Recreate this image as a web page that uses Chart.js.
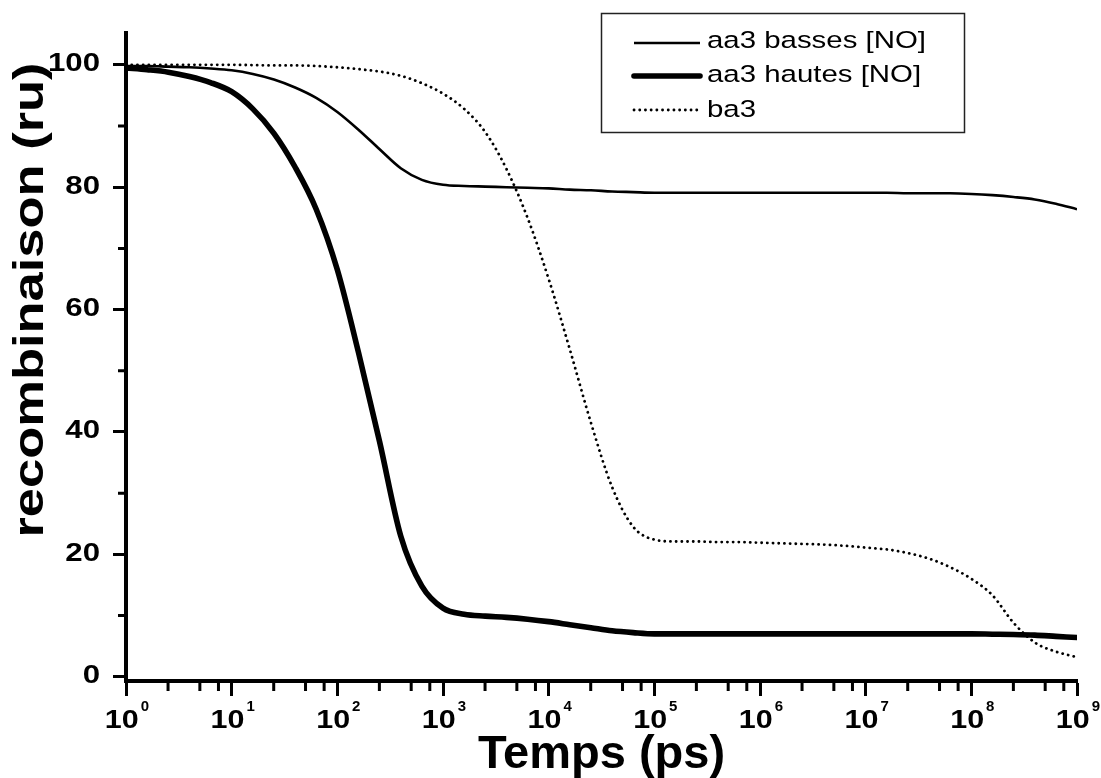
<!DOCTYPE html>
<html lang="fr">
<head>
<meta charset="UTF-8">
<title>Recombinaison</title>
<script src="https://cdn.jsdelivr.net/npm/chart.js"></script>
<style>
    body { margin: 0; background: #fff; }
</style>
</head>
<body>
<canvas id="graphique" width="1101" height="778"></canvas>

<script>
    // temps (ps), tous les 0.2 decade
    const temps = [
        1, 1.585, 2.512, 3.981, 6.310,
        1e1, 1.585e1, 2.512e1, 3.981e1, 6.310e1,
        1e2, 1.585e2, 2.512e2, 3.981e2, 6.310e2,
        1e3, 1.585e3, 2.512e3, 3.981e3, 6.310e3,
        1e4, 1.585e4, 2.512e4, 3.981e4, 6.310e4,
        1e5, 1.585e5, 2.512e5, 3.981e5, 6.310e5,
        1e6, 1.585e6, 2.512e6, 3.981e6, 6.310e6,
        1e7, 1.585e7, 2.512e7, 3.981e7, 6.310e7,
        1e8, 1.585e8, 2.512e8, 3.981e8, 6.310e8,
        1e9
    ];

    const aa3Basses = [
        99.8, 99.8, 99.7, 99.6, 99.4,
        99.1, 98.5, 97.6, 96.3, 94.6,
        92.3, 89.4, 86.2, 83.1, 81.2,
        80.4, 80.2, 80.1, 80.0, 79.9,
        79.8, 79.6, 79.5, 79.3, 79.2,
        79.1, 79.1, 79.1, 79.1, 79.1,
        79.1, 79.1, 79.1, 79.1, 79.1,
        79.1, 79.1, 79.0, 79.0, 79.0,
        78.9, 78.7, 78.4, 78.0, 77.3,
        76.4
    ];

    const aa3Hautes = [
        99.5, 99.2, 98.8, 98.1, 97.1,
        95.6, 92.8, 88.8, 83.3, 76.4,
        66.5, 53.0, 38.4, 23.0, 14.8,
        11.2, 10.2, 9.9, 9.7, 9.4,
        9.0, 8.5, 8.0, 7.5, 7.2,
        7.0, 7.0, 7.0, 7.0, 7.0,
        7.0, 7.0, 7.0, 7.0, 7.0,
        7.0, 7.0, 7.0, 7.0, 7.0,
        7.0, 6.95, 6.9, 6.8, 6.6,
        6.4
    ];

    const ba3 = [
        100.0, 100.0, 100.0, 100.0, 100.0,
        100.0, 99.95, 99.9, 99.9, 99.8,
        99.6, 99.3, 98.9, 98.2, 97.0,
        95.3, 92.8, 89.0, 83.0, 75.0,
        65.0, 53.5, 41.5, 31.0, 24.5,
        22.4, 22.1, 22.1, 22.0, 22.0,
        21.9, 21.8, 21.7, 21.6, 21.4,
        21.1, 20.8, 20.2, 19.3, 17.9,
        16.0, 13.3, 8.8, 5.6, 4.1,
        3.2
    ];

    const nomsSeries = ['aa3 basses [NO]', 'aa3 hautes [NO]', 'ba3'];

    const ticksX = [1, 1e1, 1e2, 1e3, 1e4, 1e5, 1e6, 1e7, 1e8, 1e9];
    const exposantsX = ['0', '1', '2', '3', '4', '5', '6', '7', '8', '9'];
    const mineursX = [2.5, 5, 7.5];
    const ticksY = [0, 20, 40, 60, 80, 100];
    const mineursY = [10, 30, 50, 70, 90];

    const police = "'Liberation Sans', Arial, sans-serif";

    function texte(ctx, str, x, y, font, etirement, align) {
        ctx.save();
        ctx.font = font;
        ctx.translate(x, y);
        ctx.scale(etirement, 1);
        ctx.textAlign = align;
        ctx.textBaseline = 'alphabetic';
        ctx.fillText(str, 0, 0);
        ctx.restore();
    }

    // petits traits, etiquettes, titres et legende
    const habillage = {
        id: 'habillage',
        afterDraw(chart) {
            const ctx = chart.ctx;
            const sx = chart.scales.x;
            const sy = chart.scales.y;
            const zone = chart.chartArea;

            ctx.save();
            ctx.strokeStyle = '#000';
            ctx.fillStyle = '#000';
            ctx.lineWidth = 3;
            ctx.beginPath();
            for (let d = 0; d < ticksX.length - 1; d++) {
                mineursX.forEach(m => {
                    const px = sx.getPixelForValue(m * ticksX[d]);
                    ctx.moveTo(px, zone.bottom);
                    ctx.lineTo(px, zone.bottom + 10);
                });
            }
            mineursY.forEach(v => {
                const py = sy.getPixelForValue(v);
                ctx.moveTo(zone.left, py);
                ctx.lineTo(zone.left - 8, py);
            });
            ctx.stroke();

            // etiquettes de l'axe y
            ticksY.forEach(v => {
                const py = sy.getPixelForValue(v);
                texte(ctx, String(v), zone.left - 26, py + 6.5, 'bold 26px ' + police, 1.2, 'right');
            });

            // etiquettes de l'axe x avec exposant
            ticksX.forEach((v, i) => {
                const px = sx.getPixelForValue(v);
                ctx.font = 'bold 25px ' + police;
                const w1 = ctx.measureText('10').width * 1.22;
                ctx.font = 'bold 15px ' + police;
                const w2 = ctx.measureText(exposantsX[i]).width;
                const debut = px - (w1 + 2 + w2) / 2 + 1;
                texte(ctx, '10', debut, zone.bottom + 47, 'bold 25px ' + police, 1.22, 'left');
                texte(ctx, exposantsX[i], debut + w1 + 2, zone.bottom + 30, 'bold 15px ' + police, 1, 'left');
            });

            // titres
            texte(ctx, 'Temps (ps)', (zone.left + zone.right) / 2, 768, 'bold 47px ' + police, 1, 'center');

            ctx.save();
            ctx.translate(43, 300);
            ctx.rotate(-Math.PI / 2);
            texte(ctx, 'recombinaison (ru)', 0, 0, 'bold 43px ' + police, 1.22, 'center');
            ctx.restore();

            // legende
            ctx.lineWidth = 1.5;
            ctx.strokeStyle = '#222';
            ctx.strokeRect(601.5, 13.5, 363, 119);

            const lignes = [43, 76, 110];
            const bases = [48, 82, 116.5];
            chart.data.datasets.forEach((ds, i) => {
                ctx.save();
                ctx.strokeStyle = '#000';
                ctx.lineWidth = ds.borderWidth;
                ctx.lineCap = ds.borderCapStyle || 'butt';
                ctx.setLineDash(ds.borderDash || []);
                ctx.beginPath();
                ctx.moveTo(634, lignes[i]);
                ctx.lineTo(700, lignes[i]);
                ctx.stroke();
                ctx.restore();
                texte(ctx, ds.label, 707, bases[i], '24.5px ' + police, 1.2, 'left');
            });
            ctx.restore();
        }
    };

    function points(valeurs) {
        return temps.map((t, i) => ({ x: t, y: valeurs[i] }));
    }

    new Chart(document.getElementById('graphique'), {
        type: 'line',
        data: {
            datasets: [
                {
                    label: nomsSeries[0],
                    data: points(aa3Basses),
                    borderColor: '#000',
                    borderWidth: 2.6,
                    pointRadius: 0,
                    cubicInterpolationMode: 'monotone'
                },
                {
                    label: nomsSeries[1],
                    data: points(aa3Hautes),
                    borderColor: '#000',
                    borderWidth: 5.6,
                    borderCapStyle: 'round',
                    pointRadius: 0,
                    cubicInterpolationMode: 'monotone'
                },
                {
                    label: nomsSeries[2],
                    data: points(ba3),
                    borderColor: '#000',
                    borderWidth: 2.8,
                    borderDash: [0.1, 5.6],
                    borderCapStyle: 'round',
                    pointRadius: 0,
                    cubicInterpolationMode: 'monotone'
                }
            ]
        },
        options: {
            responsive: false,
            devicePixelRatio: 1,
            animation: false,
            layout: { padding: { left: 0, right: 24, top: 33, bottom: 0 } },
            plugins: {
                legend: { display: false },
                tooltip: { enabled: false }
            },
            scales: {
                x: {
                    type: 'logarithmic',
                    min: 1,
                    max: 1e9,
                    afterBuildTicks: s => { s.ticks = ticksX.map(v => ({ value: v })); },
                    afterFit: s => { s.height = 97; },
                    ticks: { display: false },
                    grid: { drawOnChartArea: false, drawTicks: true, tickLength: 15, tickWidth: 3, tickColor: '#000' },
                    border: { display: true, width: 4, color: '#000' }
                },
                y: {
                    min: -0.7,
                    max: 105.2,
                    afterBuildTicks: s => { s.ticks = ticksY.map(v => ({ value: v })); },
                    afterFit: s => { s.width = 126; },
                    ticks: { display: false },
                    grid: { drawOnChartArea: false, drawTicks: true, tickLength: 13, tickWidth: 3, tickColor: '#000' },
                    border: { display: true, width: 4, color: '#000' }
                }
            }
        },
        plugins: [habillage]
    });
</script>
</body>
</html>
